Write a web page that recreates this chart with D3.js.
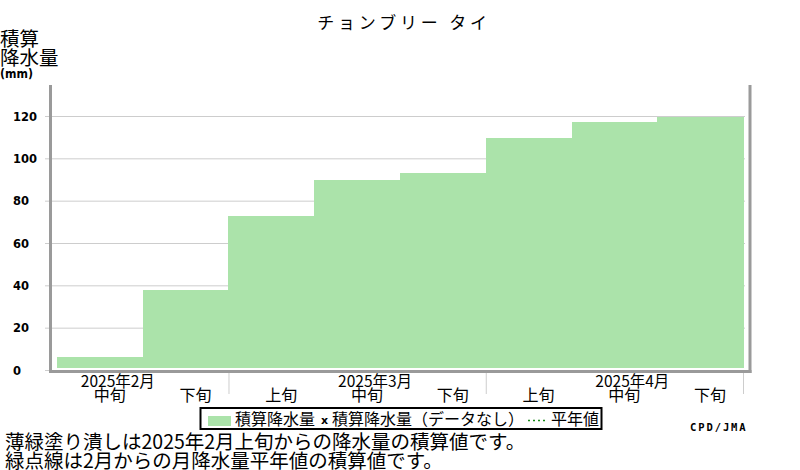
<!DOCTYPE html>
<html>
<head>
<meta charset="utf-8">
<script src="https://cdn.jsdelivr.net/npm/d3@7"></script>
<style>
  body { margin: 0; background: #fff; }
  svg { display: block; }
  .jp { font-family: "Noto Sans CJK JP", sans-serif; }
</style>
</head>
<body>
<div id="chart"></div>
<script>
// dekads shown on the x axis (Feb 中旬 .. Apr 下旬)
var dekadLabels = ["中旬", "下旬", "上旬", "中旬", "下旬", "上旬", "中旬", "下旬"];
var monthLabels = ["2025年2月", "2025年3月", "2025年4月"];
var monthDekad = [0, 3, 6];      // dekad index where each month label sits
var monthBounds = [2, 5, 8];     // dekad index of month separators
// cumulative precipitation (mm) at end of each dekad
var cumPrecip = [6.3, 37.8, 72.8, 89.8, 93.1, 109.6, 117.2, 119.5];
var yTicks = [0, 20, 40, 60, 80, 100, 120];

var width = 800, height = 470;
var plot = { left: 50, right: 750, top: 85, bottom: 370 };
var barColor = "#abe3aa", axisColor = "#9a9a9a", gridColor = "#cdcdcd";

var svg = d3.select("#chart").append("svg")
  .attr("width", width)
  .attr("height", height);

var x = d3.scaleLinear().domain([-0.0816, 8.0816]).range([plot.left, plot.right]);
var y = d3.scaleLinear().domain([0, 120]).range([370, 116]);

// grid lines + y tick labels
var grid = svg.append("g")
  .attr("transform", "translate(45,0)")
  .call(d3.axisLeft(y).tickValues(yTicks).tickSize(-700).tickPadding(0));
grid.select(".domain").remove();
grid.selectAll(".tick line").attr("stroke", gridColor);
grid.selectAll(".tick text")
  .attr("x", -32)
  .attr("dy", "0.36em")
  .attr("text-anchor", "start")
  .attr("fill", "#000")
  .style("font", "bold 11.5px 'DejaVu Sans'");

// bars (cumulative steps)
svg.append("g").attr("shape-rendering", "crispEdges").selectAll("rect")
  .data(cumPrecip)
  .join("rect")
  .attr("x", function (d, i) { return Math.round(x(i)); })
  .attr("width", function (d, i) { return Math.round(x(i + 1)) - Math.round(x(i)) + 1; })
  .attr("y", function (d) { return Math.round(y(d)); })
  .attr("height", function (d) { return Math.round(y(0) - 2 - y(d)); })
  .attr("fill", barColor);

// month separators below the axis
var xAxis = svg.append("g")
  .attr("transform", "translate(0,372)")
  .call(d3.axisBottom(x).tickValues(monthBounds).tickSize(22).tickFormat(""));
xAxis.select(".domain").remove();
xAxis.selectAll(".tick line").attr("stroke", gridColor);

// frame
var frame = svg.append("g").attr("stroke", axisColor).attr("stroke-width", 3).attr("fill", "none");
frame.append("line").attr("x1", 50.5).attr("x2", 50.5).attr("y1", plot.top).attr("y2", 373);
frame.append("line").attr("x1", 750).attr("x2", 750).attr("y1", plot.top).attr("y2", 373);
frame.append("line").attr("x1", 49).attr("x2", 751.5).attr("y1", 371.5).attr("y2", 371.5);

// dekad + month labels
svg.append("g").attr("class", "jp").selectAll("text")
  .data(dekadLabels)
  .join("text")
  .attr("x", function (d, i) { return x(i + 0.5) + 10; })
  .attr("y", 401)
  .attr("text-anchor", "middle")
  .style("font-size", "16px")
  .text(function (d) { return d; });

svg.append("g").attr("class", "jp").selectAll("text")
  .data(monthLabels)
  .join("text")
  .attr("x", function (d, i) { return x(monthDekad[i] + 0.5) + 18; })
  .attr("y", 387)
  .attr("text-anchor", "middle")
  .style("font-size", "15.5px")
  .text(function (d) { return d; });

// title
svg.append("text").attr("class", "jp")
  .attr("x", 404).attr("y", 29)
  .attr("text-anchor", "middle")
  .style("font-size", "17px")
  .style("letter-spacing", "3.8px")
  .text("チョンブリー タイ");

// y axis title
svg.append("text").attr("class", "jp").attr("x", 0).attr("y", 46).style("font-size", "19.5px").text("積算");
svg.append("text").attr("class", "jp").attr("x", 0).attr("y", 65).style("font-size", "19.5px").text("降水量");
svg.append("text").attr("x", 0).attr("y", 77.5)
  .attr("textLength", 33).attr("lengthAdjust", "spacingAndGlyphs")
  .style("font", "bold 12.5px 'DejaVu Sans'").text("(mm)");

// legend
var legend = svg.append("g");
legend.append("rect").attr("x", 200.5).attr("y", 408).attr("width", 401).attr("height", 21)
  .attr("fill", "#fff").attr("stroke", "#000").attr("stroke-width", 2);
legend.append("rect").attr("x", 208).attr("y", 416).attr("width", 23).attr("height", 10).attr("fill", barColor);
legend.append("text").attr("class", "jp").attr("x", 235).attr("y", 425).style("font-size", "16px").text("積算降水量");
legend.append("text").attr("x", 321).attr("y", 424).style("font", "bold 11px 'DejaVu Sans'").text("x");
legend.append("text").attr("class", "jp").attr("x", 332).attr("y", 425).style("font-size", "16px").text("積算降水量（データなし）");
legend.append("line").attr("x1", 528).attr("x2", 548).attr("y1", 420.5).attr("y2", 420.5)
  .attr("stroke", "#1a8c1a").attr("stroke-width", 1.5).attr("stroke-dasharray", "2,3");
legend.append("text").attr("class", "jp").attr("x", 551).attr("y", 425).style("font-size", "16px").text("平年値");

svg.append("text")
  .attr("x", 690).attr("y", 431)
  .style("font", "bold 10.5px 'DejaVu Sans Mono'")
  .style("letter-spacing", "1.9px")
  .text("CPD/JMA");

// notes
svg.append("text").attr("class", "jp").attr("x", 5).attr("y", 449).style("font-size", "19.5px")
  .text("薄緑塗り潰しは2025年2月上旬からの降水量の積算値です。");
svg.append("text").attr("class", "jp").attr("x", 5).attr("y", 468).style("font-size", "19.5px")
  .text("緑点線は2月からの月降水量平年値の積算値です。");
</script>
</body>
</html>
